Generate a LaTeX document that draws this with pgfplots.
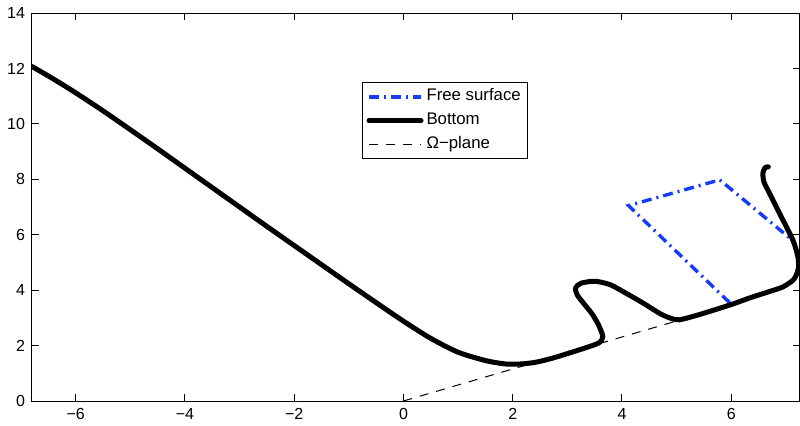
\documentclass[border=0pt]{standalone}
\usepackage{pgfplots}
\pgfplotsset{compat=1.18}
\usepackage{fontspec}
\setmainfont{Liberation Sans}
\definecolor{fsblue}{RGB}{20,60,255}

\begin{document}
\begin{tikzpicture}
\begin{axis}[
    name=ax,
    scale only axis,
    width=383.75pt, height=194pt,
    xmin=-6.8, xmax=7.25,
    ymin=0, ymax=14,
    xtick={-6,-4,...,6},
    xticklabels={−6,−4,−2,0,2,4,6},
    ytick={0,2,...,14},
    tick align=inside,
    major tick length=3.5pt,
    axis line style={line width=0.5pt},
    every tick/.style={black, line width=0.5pt},
    tick label style={font=\fontsize{8}{9}\selectfont},
    /pgf/number format/assume math mode=true,
    clip=true,
    legend cell align=left,
    legend style={
        at={(0.43,0.822)}, anchor=north west,
        draw=black, line width=0.5pt,
        font=\fontsize{8.4}{10}\selectfont,
        inner xsep=2pt, inner ysep=3pt,
        row sep=3.5pt,
        nodes={inner xsep=1.5pt, inner ysep=0pt, text height=6.2pt, text depth=2.2pt},
    },
    legend image code/.code={\draw[#1] (0pt,0pt) -- (26pt,0pt);},
]
\addplot[fsblue, line width=1.7pt, dash pattern=on 5pt off 2.5pt on 1pt off 2.5pt]
  coordinates {(5.97,3.55) (4.12,7.05) (5.79,7.98) (7.12,5.80)};
\addlegendentry{Free surface}

\addplot[black, line width=2.5pt, smooth, tension=0.45, line join=round, line cap=round]
  coordinates {
    (-6.80,12.07) (-6.40,11.61) (-6.00,11.12) (-5.50,10.47) (-5.00,9.79)
    (-4.50,9.10) (-4.00,8.40) (-3.50,7.70) (-3.00,7.00) (-2.50,6.30)
    (-2.00,5.61) (-1.50,4.92) (-1.00,4.23) (-0.50,3.55) (0.00,2.88)
    (0.50,2.26) (1.00,1.76) (1.50,1.46) (1.85,1.34) (2.10,1.33)
    (2.40,1.39) (2.70,1.53) (3.00,1.71) (3.35,1.93) (3.58,2.10)
    (3.65,2.32) (3.57,2.75) (3.45,3.15) (3.30,3.52) (3.18,3.83)
    (3.15,4.08) (3.25,4.25) (3.50,4.32) (3.78,4.20) (4.10,3.86)
    (4.39,3.53) (4.70,3.15) (4.90,2.98) (5.05,2.93) (5.42,3.12)
    (6.00,3.48) (6.34,3.72) (6.70,3.95) (6.95,4.12) (7.15,4.40)
    (7.23,4.80) (7.22,5.20) (7.13,5.80) (6.89,6.75) (6.70,7.50)
    (6.60,7.90) (6.58,8.22) (6.62,8.42) (6.68,8.45)
  };
\addlegendentry{Bottom}

\addplot[black, line width=0.5pt, dash pattern=on 4.5pt off 4pt]
  coordinates {(0,0) (5.0,2.887)};
\addlegendentry{Ω−plane}
\end{axis}
\pgfresetboundingbox
\path ([xshift=-16pt,yshift=-12pt]ax.south west) rectangle ([xshift=0.25pt,yshift=6.5pt]ax.north east);
\end{tikzpicture}
\end{document}
